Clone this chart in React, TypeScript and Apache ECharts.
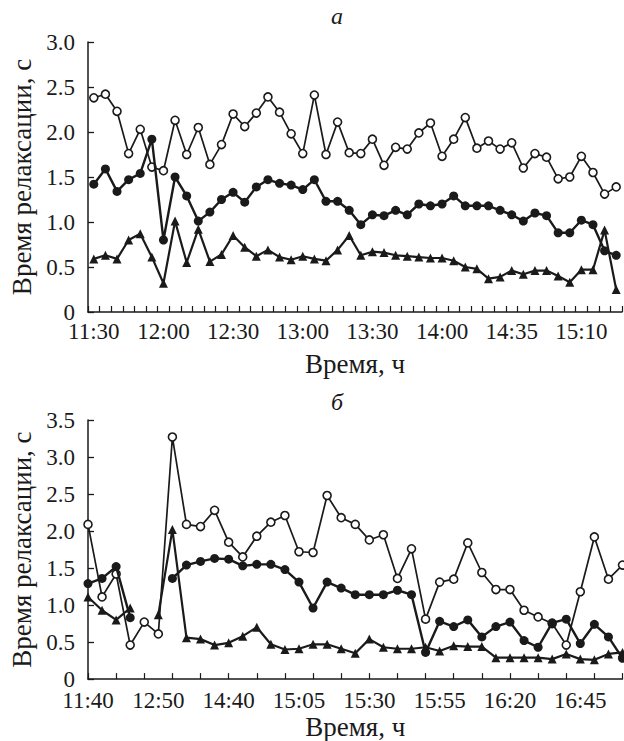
import React, { useEffect, useRef } from "react";
import * as echarts from "echarts";

// ---------- Panel а ----------
const catsA: string[] = [
  "11:30","11:35","11:40","11:45","11:50","11:55",
  "12:00","12:05","12:10","12:15","12:20","12:25",
  "12:30","12:35","12:40","12:45","12:50","12:55",
  "13:00","13:05","13:10","13:15","13:20","13:25",
  "13:30","13:35","13:40","13:45","13:50","13:55",
  "14:00","14:05","14:10","14:15","14:20","14:25",
  "14:35","14:40","14:45","14:50","14:55","15:00",
  "15:10","15:15","15:20","15:25",
];
const openA: number[] = [
  2.38, 2.42, 2.23, 1.76, 2.03, 1.61, 1.57, 2.13, 1.75, 2.05, 1.64, 1.86,
  2.20, 2.06, 2.21, 2.39, 2.22, 1.98, 1.76, 2.41, 1.75, 2.11, 1.77, 1.76,
  1.92, 1.63, 1.83, 1.81, 1.99, 2.10, 1.73, 1.92, 2.16, 1.82, 1.90, 1.81,
  1.88, 1.60, 1.76, 1.72, 1.48, 1.50, 1.73, 1.55, 1.31, 1.39,
];
const filledA: number[] = [
  1.42, 1.59, 1.34, 1.47, 1.54, 1.92, 0.80, 1.50, 1.29, 1.01, 1.11, 1.25,
  1.33, 1.22, 1.39, 1.47, 1.43, 1.41, 1.36, 1.47, 1.23, 1.23, 1.13, 0.97,
  1.08, 1.07, 1.13, 1.08, 1.20, 1.18, 1.20, 1.29, 1.18, 1.18, 1.18, 1.13,
  1.08, 1.01, 1.10, 1.07, 0.88, 0.88, 1.02, 0.97, 0.68, 0.63,
];
const triA: number[] = [
  0.59, 0.63, 0.59, 0.80, 0.87, 0.61, 0.32, 1.01, 0.55, 0.92, 0.56, 0.64,
  0.85, 0.72, 0.62, 0.69, 0.61, 0.58, 0.62, 0.59, 0.57, 0.69, 0.85, 0.63,
  0.67, 0.66, 0.63, 0.62, 0.61, 0.60, 0.60, 0.57, 0.50, 0.48, 0.37, 0.39,
  0.46, 0.42, 0.46, 0.46, 0.40, 0.33, 0.47, 0.47, 0.91, 0.25,
];

// ---------- Panel б ----------
// tick labels shown on the axis, one every 5 measurements
const tickLabelsB: string[] = ["11:40", "12:50", "14:40", "15:05", "15:30", "15:55", "16:20", "16:45"];
const openB: number[] = [
  2.09, 1.11, 1.42, 0.46, 0.77, 0.61, 3.27, 2.09, 2.06, 2.28, 1.85, 1.65,
  1.93, 2.12, 2.21, 1.72, 1.71, 2.48, 2.18, 2.09, 1.88, 1.95, 1.36, 1.76,
  0.81, 1.31, 1.35, 1.84, 1.44, 1.21, 1.21, 0.93, 0.84, 0.75, 0.46, 1.18,
  1.92, 1.35, 1.54,
];
const filledB: (number | null)[] = [
  1.29, 1.36, 1.52, 0.83, null, null, 1.36, 1.54, 1.59, 1.63, 1.62, 1.53,
  1.55, 1.55, 1.48, 1.31, 0.96, 1.31, 1.23, 1.14, 1.14, 1.14, 1.20, 1.14,
  0.36, 0.78, 0.71, 0.80, 0.57, 0.71, 0.77, 0.52, 0.43, 0.76, 0.81, 0.48,
  0.74, 0.57, 0.28,
];
const triB: (number | null)[] = [
  1.11, 0.93, 0.80, 0.96, null, 0.87, 2.02, 0.56, 0.54, 0.46, 0.49, 0.58,
  0.70, 0.47, 0.40, 0.41, 0.47, 0.47, 0.41, 0.35, 0.54, 0.43, 0.41, 0.41,
  0.43, 0.38, 0.45, 0.44, 0.44, 0.29, 0.29, 0.29, 0.29, 0.27, 0.34, 0.27,
  0.26, 0.34, 0.36,
];

const FONT = "Liberation Serif";
const INK = "#1a1a1a";
const FS = 23; // tick labels
const FN = 27; // axis names

export default function App() {
  const ref = useRef<HTMLDivElement>(null);
  useEffect(() => {
    if (!ref.current) return;
    const chart = echarts.init(ref.current, undefined, { renderer: "svg" });

    const catsB = openB.map((_, i) => (i % 5 === 0 ? tickLabelsB[i / 5] ?? "" : ""));

    const yFmt = (v: number) => (v === 0 ? "0" : v.toFixed(1));
    const axisText = { fontFamily: FONT, fontSize: FS, color: INK };
    const nameText = { fontFamily: FONT, fontSize: FN, color: INK };
    const axisLine = { show: true, lineStyle: { color: INK, width: 1.5 } };

    const mkY = (gi: number, max: number) => ({
      type: "value",
      gridIndex: gi,
      min: 0,
      max,
      interval: 0.5,
      axisLine,
      axisTick: { show: true, inside: true, length: 6, lineStyle: { color: INK, width: 1.3 } },
      splitLine: { show: false },
      axisLabel: { ...axisText, margin: 13, formatter: yFmt },
      name: "Время релаксации, с",
      nameLocation: "middle",
      nameGap: 53,
      nameTextStyle: nameText,
    });

    const openStyle = (xi: number, data: any[]) => ({
      type: "line",
      xAxisIndex: xi,
      yAxisIndex: xi,
      data,
      symbol: "circle",
      symbolSize: 8,
      showAllSymbol: true,
      lineStyle: { color: INK, width: 1.7 },
      itemStyle: { color: "#fff", borderColor: INK, borderWidth: 1.6 },
      z: 2,
    });
    const filledStyle = (xi: number, data: any[]) => ({
      type: "line",
      xAxisIndex: xi,
      yAxisIndex: xi,
      data,
      symbol: "circle",
      symbolSize: 9,
      showAllSymbol: true,
      connectNulls: false,
      lineStyle: { color: INK, width: 2.4 },
      itemStyle: { color: INK },
      z: 3,
    });
    const triStyle = (xi: number, data: any[]) => ({
      type: "line",
      xAxisIndex: xi,
      yAxisIndex: xi,
      data,
      symbol: "triangle",
      symbolSize: 9,
      showAllSymbol: true,
      connectNulls: false,
      lineStyle: { color: INK, width: 2.2 },
      itemStyle: { color: INK },
      z: 3,
    });

    chart.setOption({
      animation: false,
      backgroundColor: "#fff",
      textStyle: { fontFamily: FONT, color: INK },
      graphic: [
        {
          type: "text",
          left: 331,
          top: 4,
          style: { text: "а", font: `italic 24px ${FONT}`, fill: INK },
        },
        {
          type: "text",
          left: 331,
          top: 390,
          style: { text: "б", font: `italic 24px ${FONT}`, fill: INK },
        },
      ],
      grid: [
        { left: 86, right: 2, top: 42, height: 270 },
        { left: 86, right: 1.5, top: 420, height: 260 },
      ],
      xAxis: [
        {
          type: "category",
          gridIndex: 0,
          data: catsA,
          boundaryGap: true,
          axisLine,
          axisTick: { show: true, inside: true, length: 6, interval: 0, lineStyle: { color: INK, width: 1.2 } },
          axisLabel: { ...axisText, interval: 5, margin: 8 },
          name: "Время, ч",
          nameLocation: "middle",
          nameGap: 38,
          nameTextStyle: nameText,
        },
        {
          type: "category",
          gridIndex: 1,
          data: catsB,
          boundaryGap: false,
          axisLine,
          axisTick: { show: true, inside: true, length: 6, interval: 1, lineStyle: { color: INK, width: 1.2 } },
          axisLabel: { ...axisText, interval: 4, margin: 10 },
          name: "Время, ч",
          nameLocation: "middle",
          nameGap: 33,
          nameTextStyle: nameText,
        },
      ],
      yAxis: [mkY(0, 3), mkY(1, 3.5)],
      series: [
        openStyle(0, openA),
        filledStyle(0, filledA),
        triStyle(0, triA),
        openStyle(1, openB),
        filledStyle(1, filledB.map((v) => (v === null ? "-" : v))),
        triStyle(1, triB.map((v) => (v === null ? "-" : v))),
      ],
    });
    return () => chart.dispose();
  }, []);
  return (
    <div
      ref={ref}
      style={{ position: "absolute", left: 0, top: 0, width: 624, height: 741, background: "#fff" }}
    />
  );
}
